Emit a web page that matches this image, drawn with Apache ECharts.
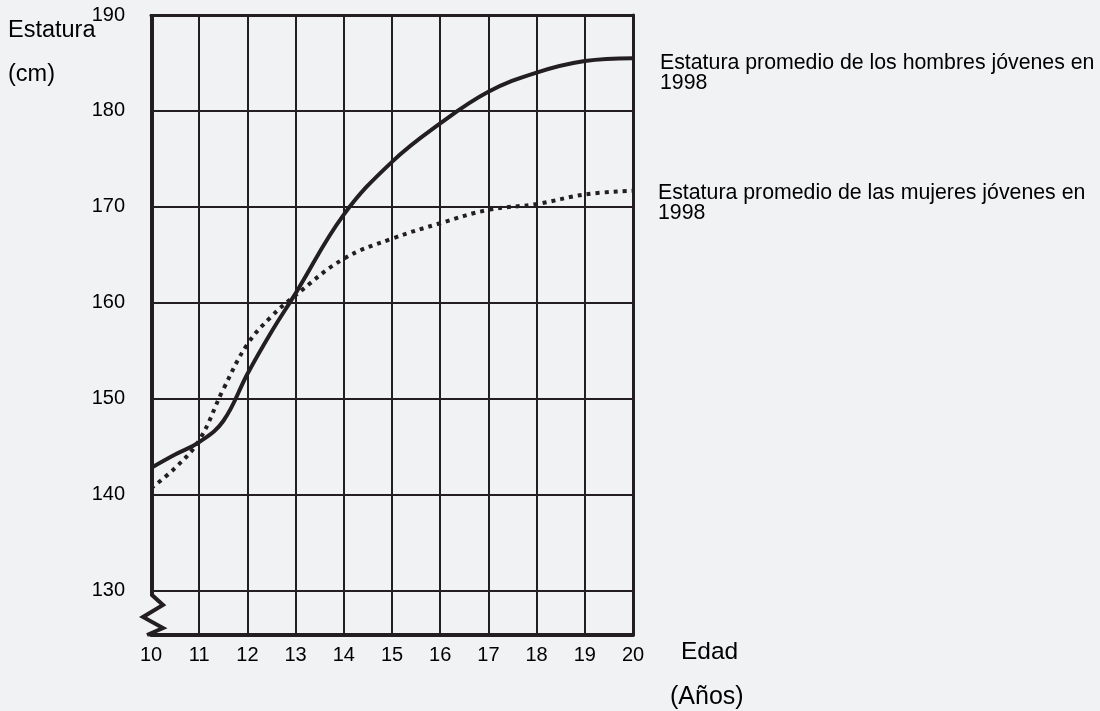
<!DOCTYPE html>
<html>
<head>
<meta charset="utf-8">
<script src="https://cdn.jsdelivr.net/npm/echarts@6/dist/echarts.min.js"></script>
<style>
  html, body { margin: 0; padding: 0; background: #f1f2f4; }
  #chart { width: 1100px; height: 711px; }
</style>
</head>
<body>
<div id="chart"></div>
<script>
// edades (años)
const ages = [10, 10.5, 11, 11.5, 12, 12.5, 13, 14, 15, 16, 17, 18, 19, 20];
// estatura promedio hombres (cm)
const hombres = [142.8, 144.2, 145.5, 147.7, 152.6, 157.0, 161.0, 169.2, 174.7, 178.7, 182.0, 184.0, 185.2, 185.5];
// estatura promedio mujeres (cm)
const mujeres = [140.7, 142.8, 145.7, 151.0, 155.7, 158.6, 160.8, 164.6, 166.7, 168.3, 169.7, 170.3, 171.3, 171.7];
// marcas de los ejes
const xTicks = [10, 11, 12, 13, 14, 15, 16, 17, 18, 19, 20];
const yTicks = [130, 140, 150, 160, 170, 180, 190];

const ink = '#231f20';
const font = 'Liberation Sans, Arial, sans-serif';

const myChart = echarts.init(document.getElementById('chart'));

const option = {
    backgroundColor: '#f1f2f4',
    animation: false,
    grid: { left: 151, right: 467, top: 15, bottom: 76 },
    xAxis: [
        {
            type: 'value', min: 10, max: 20, position: 'bottom',
            axisLine: { show: true, lineStyle: { color: ink, width: 4 } },
            axisTick: { show: false, customValues: xTicks.slice(1) },
            axisLabel: { customValues: xTicks, color: '#000', fontSize: 20, fontFamily: font, margin: 10 },
            splitLine: { show: true, lineStyle: { color: ink, width: 2 } }
        },
        {
            type: 'value', min: 10, max: 20, position: 'top',
            axisLine: { show: true, lineStyle: { color: ink, width: 3 } },
            axisTick: { show: false }, axisLabel: { show: false }, splitLine: { show: false }
        }
    ],
    yAxis: [
        {
            type: 'value', min: 125.4, max: 190, position: 'left',
            axisLine: { show: false },
            axisTick: { show: false, customValues: yTicks },
            axisLabel: { customValues: yTicks, color: '#000', fontSize: 20, fontFamily: font, margin: 26 },
            splitLine: { show: true, lineStyle: { color: ink, width: 2 } }
        },
        {
            type: 'value', min: 125.4, max: 190, position: 'right',
            axisLine: { show: true, lineStyle: { color: ink, width: 3 } },
            axisTick: { show: false }, axisLabel: { show: false }, splitLine: { show: false }
        }
    ],
    series: [
        {
            name: 'Hombres', type: 'line', smooth: 0.4, symbol: 'none',
            lineStyle: { color: ink, width: 4 },
            data: ages.map((a, i) => [a, hombres[i]])
        },
        {
            name: 'Mujeres', type: 'line', smooth: 0.4, symbol: 'none',
            lineStyle: { color: ink, width: 4, type: [4, 5], cap: 'butt' },
            data: ages.map((a, i) => [a, mujeres[i]])
        }
    ]
};
myChart.setOption(option);

// borde izquierdo con el corte en zigzag
const pTop = myChart.convertToPixel({ xAxisIndex: 0, yAxisIndex: 0 }, [10, 190]);
const pBot = myChart.convertToPixel({ xAxisIndex: 0, yAxisIndex: 0 }, [10, 125.4]);
const x0 = pTop[0] + 1;
const yb = pBot[1] - 40;

const txt = (text, x, y, size, lh) => ({
    type: 'text', left: x, top: y,
    style: { text: text, fill: '#000', font: size + 'px ' + font, lineHeight: lh || size + 1 }
});

myChart.setOption({
    graphic: [
        {
            type: 'polyline',
            shape: { points: [[x0, pTop[1] - 1], [x0, yb], [x0 + 11, yb + 10], [x0 - 9, yb + 22], [x0 + 11, yb + 33], [x0 - 5, pBot[1]]] },
            style: { stroke: ink, lineWidth: 4, fill: null, lineJoin: 'miter' }
        },
        txt('Estatura', 8, 18, 23.5),
        txt('(cm)', 8, 62, 23.5),
        txt('Edad', 681, 639, 24.5),
        txt('(Años)', 670, 684, 25),
        txt('Estatura promedio de los hombres jóvenes en\n1998', 660, 53, 21.3, 20),
        txt('Estatura promedio de las mujeres jóvenes en\n1998', 658, 183, 21.3, 20)
    ]
});

window.addEventListener('resize', function () {
    myChart.resize();
});
</script>
</body>
</html>
